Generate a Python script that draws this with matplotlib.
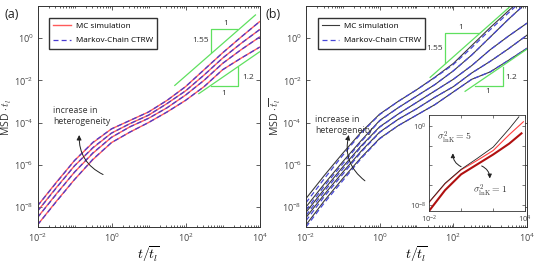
import numpy as np
import matplotlib as mpl
mpl.use("Agg")
from matplotlib import pyplot as plt
from matplotlib import ticker

plt.rcParams['font.family'] = ['Open Sans', 'DejaVu Sans']
plt.rcParams['mathtext.fontset'] = 'cm'

# ---- data (log10 values) ----
log_t = [-2, -1.5, -1, -0.5, 0, 0.5, 1, 1.5, 2, 2.5, 3, 3.5, 4]

# panel (a): MC simulation and Markov-chain CTRW (coincide)
a_mc = [
    [-7.95, -6.85, -5.8, -4.95, -4.3, -3.9, -3.5, -2.95, -2.3, -1.5, -0.7, 0.05, 0.78],
    [-8.2, -7.1, -6.05, -5.2, -4.5, -4.05, -3.65, -3.1, -2.5, -1.75, -0.95, -0.25, 0.4],
    [-8.5, -7.4, -6.35, -5.45, -4.7, -4.2, -3.8, -3.3, -2.7, -2.0, -1.2, -0.55, 0.05],
    [-8.85, -7.75, -6.7, -5.75, -4.95, -4.45, -4.0, -3.5, -2.95, -2.3, -1.5, -0.95, -0.43],
]
a_ctrw = [
    [-7.95, -6.87, -5.8, -4.93, -4.3, -3.9, -3.5, -2.95, -2.3, -1.5, -0.7, 0.05, 0.78],
    [-8.2, -7.12, -6.05, -5.18, -4.5, -4.05, -3.65, -3.1, -2.5, -1.75, -0.95, -0.25, 0.4],
    [-8.5, -7.42, -6.35, -5.43, -4.7, -4.2, -3.8, -3.3, -2.7, -2.0, -1.2, -0.55, 0.05],
    [-8.85, -7.77, -6.7, -5.73, -4.95, -4.45, -4.0, -3.5, -2.95, -2.3, -1.5, -0.95, -0.43],
]

# panel (b)
b_mc = [
    [-7.6, -6.5, -5.45, -4.45, -3.6, -3.0, -2.45, -1.85, -1.2, -0.35, 0.5, 1.3, 2.1],
    [-8.0, -6.9, -5.85, -4.85, -3.9, -3.3, -2.75, -2.2, -1.55, -0.8, 0.05, 0.9, 1.7],
    [-8.25, -7.15, -6.1, -5.1, -4.2, -3.6, -3.05, -2.5, -1.95, -1.3, -0.55, 0.1, 0.71],
    [-8.5, -7.4, -6.35, -5.35, -4.45, -3.85, -3.35, -2.8, -2.3, -1.65, -1.1, -0.5, 0.14],
    [-8.85, -7.7, -6.65, -5.65, -4.75, -4.15, -3.65, -3.15, -2.55, -1.95, -1.6, -1.05, -0.48],
]
b_ctrw = [
    [-7.8, -6.65, -5.55, -4.5, -3.62, -3.0, -2.45, -1.87, -1.25, -0.45, 0.4, 1.2, 2.0],
    [-8.15, -7.0, -5.95, -4.9, -3.92, -3.3, -2.75, -2.2, -1.55, -0.8, 0.05, 0.9, 1.7],
    [-8.4, -7.25, -6.2, -5.15, -4.22, -3.6, -3.05, -2.5, -1.95, -1.3, -0.55, 0.1, 0.71],
    [-8.65, -7.5, -6.45, -5.4, -4.47, -3.85, -3.35, -2.8, -2.3, -1.65, -1.1, -0.5, 0.14],
    [-8.95, -7.8, -6.75, -5.7, -4.77, -4.15, -3.65, -3.15, -2.55, -1.95, -1.6, -1.05, -0.48],
]

# inset of (b): sigma^2_lnK = 5 (black), intermediate (light red), 1 (dark red)
ins_t_black = [-2, -1, 0, 1, 2, 3, 3.6]
ins_black = [-7.7, -5.8, -4.4, -3.3, -2.15, -0.3, 0.9]
ins_t_light = [-2, -1, 0, 1, 2, 3, 3.88]
ins_light = [-7.75, -5.85, -4.45, -3.5, -2.5, -0.9, 0.4]
ins_t_dark = [-2, -1, 0, 1, 2, 3, 3.76]
ins_dark = [-8.6, -6.5, -4.9, -3.9, -2.9, -1.8, -0.77]

# slope guides: (log t, log MSD) end points
a_guide_hi = [(1.71, -2.24), (3.89, 1.10)]
a_guide_lo = [(2.36, -2.63), (4.0, -0.65)]
b_guide_hi = [(1.37, -1.86), (3.62, 1.62)]
b_guide_lo = [(2.32, -2.52), (4.0, -0.52)]

GREEN = '#5fe05f'
TXT = '#333333'
YLIM = (10 ** -8.95, 10 ** 1.52)


def style_axis(ax):
    ax.set_xscale('log')
    ax.set_yscale('log')
    ax.set_xlim(1e-2, 1e4)
    ax.set_ylim(*YLIM)
    ax.xaxis.set_major_locator(ticker.FixedLocator([1e-2, 1e0, 1e2, 1e4]))
    ax.xaxis.set_minor_locator(ticker.LogLocator(base=10, subs=np.arange(1, 10), numticks=20))
    ax.xaxis.set_minor_formatter(ticker.NullFormatter())
    ax.yaxis.set_major_locator(ticker.FixedLocator([1e-8, 1e-6, 1e-4, 1e-2, 1e0]))
    ax.yaxis.set_minor_locator(ticker.NullLocator())
    ax.tick_params(which='both', direction='in', top=True, right=True,
                   labelsize=6.5, labelcolor='#444444', color='#444444', width=0.6)
    ax.tick_params(which='major', length=3, pad=3)
    ax.tick_params(which='minor', length=1.5)
    for sp in ax.spines.values():
        sp.set_linewidth(0.7)
        sp.set_color('#333333')
    ax.set_xlabel(r'$t/\overline{t_l}$', fontsize=10, labelpad=1)
    ax.set_ylabel(r'MSD $\cdot\,\overline{t_l}$', fontsize=7.5, color=TXT)
    ax.yaxis.set_label_coords(-0.104, 0.5)


def draw_guides(ax, hi, lo, tri_hi, tri_lo, lab):
    for seg in (hi, lo):
        xs = [10 ** p[0] for p in seg]
        ys = [10 ** p[1] for p in seg]
        ax.plot(xs, ys, color=GREEN, lw=0.9)
    # triangles
    for tri in (tri_hi, tri_lo):
        ax.plot([10 ** p[0] for p in tri], [10 ** p[1] for p in tri], color=GREEN, lw=0.9)
    for (x, y, s) in lab:
        ax.text(10 ** x, 10 ** y, s, fontsize=6, color=TXT, ha='center', va='center', zorder=5)


def curve_arrow(ax, start, end, text_xy, rad):
    ax.annotate('', xy=(10 ** end[0], 10 ** end[1]), xytext=(10 ** start[0], 10 ** start[1]),
                arrowprops=dict(arrowstyle='-|>', color='#222222', lw=0.7,
                                connectionstyle='arc3,rad=%s' % rad,
                                mutation_scale=7))
    ax.text(10 ** text_xy[0], 10 ** text_xy[1], 'increase in\nheterogeneity',
            fontsize=6.3, color=TXT, ha='left', va='top', linespacing=1.4)


def add_legend(ax):
    ax.legend(loc='upper left', bbox_to_anchor=(0.035, 0.965), fontsize=5.9, frameon=True,
              fancybox=False, edgecolor='#333333', framealpha=1, handlelength=2.1,
              handletextpad=0.6, borderpad=0.5, labelspacing=0.85)


fig = plt.figure(figsize=(5.35, 2.63), dpi=100)
ax_a = fig.add_axes([0.0701, 0.1369, 0.415, 0.840])
ax_b = fig.add_axes([0.5720, 0.1369, 0.413, 0.840])

t = 10.0 ** np.array(log_t)

# ---- panel (a) ----
for i, (mc, ct) in enumerate(zip(a_mc, a_ctrw)):
    ax_a.plot(t, 10 ** np.array(mc), color='#ff5a5a', lw=1.0,
              label='MC simulation' if i == 0 else None)
    ax_a.plot(t, 10 ** np.array(ct), color='#4a3bd0', lw=0.9, dashes=(4, 2.5),
              label='Markov-Chain CTRW' if i == 0 else None)
style_axis(ax_a)
draw_guides(ax_a, a_guide_hi, a_guide_lo,
            [(2.68, -0.65), (2.68, 0.41), (3.40, 0.41)],
            [(2.68, -2.29), (3.41, -2.29), (3.41, -1.37)],
            [(3.08, 0.70, '1'), (2.40, -0.10, '1.55'), (3.68, -1.88, '1.2'), (3.02, -2.62, '1')])
curve_arrow(ax_a, (-0.16, -6.52), (-0.87, -4.46), (-1.58, -3.2), -0.35)
add_legend(ax_a)

# ---- panel (b) ----
for i, (mc, ct) in enumerate(zip(b_mc, b_ctrw)):
    ax_b.plot(t, 10 ** np.array(mc), color='#3a3a3a', lw=0.8,
              label='MC simulation' if i == 0 else None)
    ax_b.plot(t, 10 ** np.array(ct), color='#4848d8', lw=0.9, dashes=(4, 2.5),
              label='Markov-Chain CTRW' if i == 0 else None)
style_axis(ax_b)
draw_guides(ax_b, b_guide_hi, b_guide_lo,
            [(1.78, -1.19), (1.78, 0.24), (2.69, 0.24)],
            [(2.60, -2.29), (3.35, -2.29), (3.35, -1.37)],
            [(2.21, 0.52, '1'), (1.50, -0.50, '1.55'), (3.58, -1.85, '1.2'), (2.93, -2.55, '1')])
curve_arrow(ax_b, (-0.34, -6.84), (-0.82, -4.46), (-1.76, -3.62), -0.35)
add_legend(ax_b)

# ---- inset ----
ins = fig.add_axes([0.8019, 0.1977, 0.180, 0.365])
ins.plot(10.0 ** np.array(ins_t_light), 10 ** np.array(ins_light), color='#ff4040', lw=0.8)
ins.plot(10.0 ** np.array(ins_t_dark), 10 ** np.array(ins_dark), color='#b01010', lw=1.5)
ins.plot(10.0 ** np.array(ins_t_black), 10 ** np.array(ins_black), color='#222222', lw=0.6)
ins.set_xscale('log')
ins.set_yscale('log')
ins.set_xlim(1e-2, 1e4)
ins.set_ylim(10 ** -8.6, 10 ** 1.08)
ins.xaxis.set_major_locator(ticker.FixedLocator([1e-2, 1e0, 1e2, 1e4]))
ins.xaxis.set_minor_locator(ticker.NullLocator())
ins.yaxis.set_major_locator(ticker.FixedLocator([1e-8, 1e-6, 1e-4, 1e-2, 1e0]))
ins.yaxis.set_minor_locator(ticker.NullLocator())
ins.xaxis.set_major_formatter(ticker.FuncFormatter(
    lambda v, p: r'$\mathdefault{10^{%d}}$' % round(np.log10(v)) if v in (1e-2, 1e4) else ''))
ins.yaxis.set_major_formatter(ticker.FuncFormatter(
    lambda v, p: r'$\mathdefault{10^{%d}}$' % round(np.log10(v)) if v in (1e-8, 1e0) else ''))
ins.tick_params(which='both', direction='in', top=True, right=True, length=2.5,
                labelsize=5.5, labelcolor='#444444', color='#444444', width=0.5, pad=2)
for sp in ins.spines.values():
    sp.set_linewidth(0.6)
    sp.set_color('#333333')
ins.text(0.08, 0.76, r'$\sigma^2_{\rm lnK}=5$', transform=ins.transAxes, fontsize=7,
         color=TXT, ha='left', va='center')
ins.text(0.46, 0.21, r'$\sigma^2_{\rm lnK}=1$', transform=ins.transAxes, fontsize=7,
         color=TXT, ha='left', va='center')
ins.annotate('', xy=(0.25, 0.63), xytext=(0.36, 0.45), xycoords='axes fraction',
             arrowprops=dict(arrowstyle='-|>', color='#222222', lw=0.7,
                             connectionstyle='arc3,rad=-0.4', mutation_scale=6))
ins.annotate('', xy=(0.63, 0.31), xytext=(0.52, 0.48), xycoords='axes fraction',
             arrowprops=dict(arrowstyle='-|>', color='#222222', lw=0.7,
                             connectionstyle='arc3,rad=-0.4', mutation_scale=6))

fig.text(0.022, 0.945, '(a)', fontsize=9, color='#222222', ha='center', va='center')
fig.text(0.510, 0.945, '(b)', fontsize=9, color='#222222', ha='center', va='center')

fig.savefig('out.png', dpi=100)
